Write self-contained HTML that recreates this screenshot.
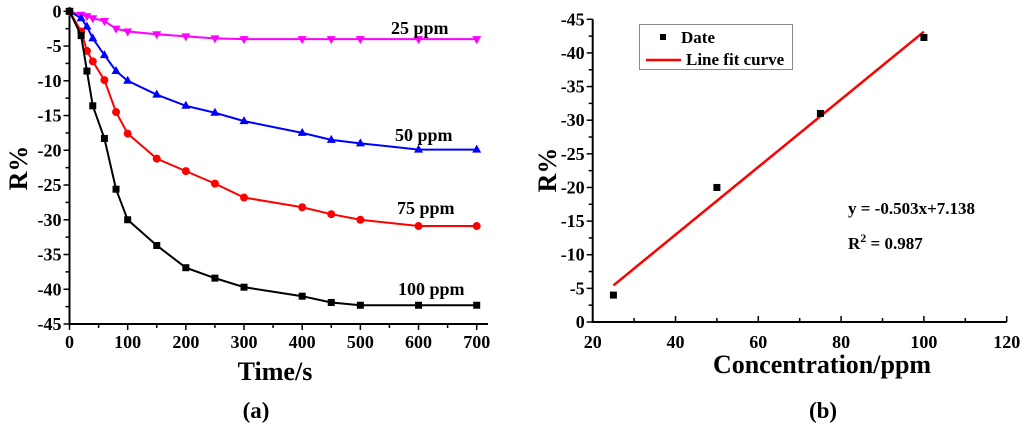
<!DOCTYPE html>
<html><head><meta charset="utf-8"><style>
body{margin:0;background:#fff;overflow:hidden;}
svg text{font-family:"Liberation Serif",serif;font-weight:bold;fill:#000;}
</style></head><body>
<svg id="s" width="1024" height="434"></svg>
<script>
const times=[0,20,30,40,60,80,100,150,200,250,300,400,450,500,600,700];
const s100=[0,-3.5,-8.6,-13.6,-18.3,-25.6,-30,-33.7,-36.9,-38.4,-39.7,-41,-41.9,-42.3,-42.3,-42.3];
const s75=[0,-2.9,-5.7,-7.2,-9.9,-14.5,-17.6,-21.2,-23,-24.8,-26.8,-28.2,-29.2,-30,-30.9,-30.9];
const s50=[0,-1,-2.2,-3.9,-6.3,-8.6,-10,-12,-13.6,-14.6,-15.8,-17.5,-18.5,-19,-19.9,-19.9];
const s25=[0,-0.5,-0.7,-1,-1.4,-2.5,-2.9,-3.3,-3.6,-3.9,-4,-4,-4,-4,-4,-4];
const xTicksA=[0,100,200,300,400,500,600,700];
const yTicksA=[0,-5,-10,-15,-20,-25,-30,-35,-40,-45];
const conc=[25,50,75,100];
const resp=[-4,-20,-31,-42.3];
const fitSlope=-0.503, fitIntercept=7.138;
const xTicksB=[20,40,60,80,100,120];
const yTicksB=[0,-5,-10,-15,-20,-25,-30,-35,-40,-45];

const svg=document.getElementById('s');
const NS='http://www.w3.org/2000/svg';
function mk(tag,attrs,parent){const e=document.createElementNS(NS,tag);for(const k in attrs)e.setAttribute(k,attrs[k]);(parent||svg).appendChild(e);return e;}
function txt(x,y,t,size,anchor,parent){const e=mk('text',{x:x,y:y,'font-size':size,'text-anchor':anchor||'middle'},parent);e.textContent=t;return e;}

// Chart A
const ax=v=>69.5+(v/700)*407.2;
const ay=v=>11.3+(v/-45)*312.7;
const gA=mk('g',{});


const axA=mk('path',{d:`M${ax(0)},${ay(0)-2}V${ay(-45)}H488`,stroke:'#000','stroke-width':2,fill:'none'},gA);


for(let v=0;v<=700;v+=50){const big=v%100===0;mk('line',{x1:ax(v),x2:ax(v),y1:ay(-45),y2:ay(-45)+(big?6:4),stroke:'#000','stroke-width':1.5},gA);}
xTicksA.forEach(v=>{const t=txt(ax(v),348,String(v),18,'middle',gA);});
for(let v=0;v>=-45;v-=2.5){const big=v%5===0;mk('line',{x1:ax(0),x2:ax(0)-(big?6:4),y1:ay(v),y2:ay(v),stroke:'#000','stroke-width':1.5},gA);}
yTicksA.forEach(v=>{const t=txt(ax(0)-8,ay(v)+6,String(v),18,'end',gA);});
const xtA=txt(275,380,'Time/s',26,'middle',gA);
const ytA=txt(0,0,'R%',26,'middle',gA);ytA.setAttribute('transform','translate(27,168) rotate(-90)');
const capA=txt(256,418,'(a)',23,'middle',gA);

function series(vals,color,marker,name){
  const g=mk('g',{},gA);
  
  
  mk('polyline',{points:times.map((t,i)=>ax(t)+','+ay(vals[i])).join(' '),fill:'none',stroke:color,'stroke-width':2},g);
  times.forEach((t,i)=>{const x=ax(t),y=ay(vals[i]);let m;
    if(marker==='sq')m=mk('rect',{x:x-3.5,y:y-3.5,width:7,height:7,fill:color},g);
    else if(marker==='ci')m=mk('circle',{cx:x,cy:y,r:4,fill:color},g);
    else if(marker==='up')m=mk('polygon',{points:`${x},${y-5} ${x-4.5},${y+3} ${x+4.5},${y+3}`,fill:color},g);
    else m=mk('polygon',{points:`${x},${y+5} ${x-4.5},${y-3} ${x+4.5},${y-3}`,fill:color},g);
    });
}
series(s25,'#ff00ff','dn','series-25ppm');
series(s50,'#0000ff','up','series-50ppm');
series(s75,'#ff0000','ci','series-75ppm');
series(s100,'#000','sq','series-100ppm');
[['25 ppm',391,34],['50 ppm',395,141],['75 ppm',397,214],['100 ppm',398,295]].forEach(a=>{const t=txt(a[1],a[2],a[0],18,'start',gA);});

// Chart B
const bx=v=>592.7+((v-20)/100)*414;
const by=v=>322-(v/-45)*302.7;
const gB=mk('g',{});


const axB=mk('path',{d:`M${bx(20)},${by(-45)}V${by(0)}H${bx(120)}`,stroke:'#000','stroke-width':2,fill:'none'},gB);


for(let v=20;v<=120;v+=10){const big=v%20===0;mk('line',{x1:bx(v),x2:bx(v),y1:by(0),y2:by(0)-(big?6:4),stroke:'#000','stroke-width':1.5},gB);}
xTicksB.forEach(v=>{const t=txt(bx(v),348,String(v),18,'middle',gB);});
for(let v=0;v>=-45;v-=2.5){const big=v%5===0;mk('line',{x1:bx(20),x2:bx(20)-(big?6:4),y1:by(v),y2:by(v),stroke:'#000','stroke-width':1.5},gB);}
yTicksB.forEach(v=>{const t=txt(bx(20)-8,by(v)+6,String(v),18,'end',gB);});
const xtB=txt(822,373,'Concentration/ppm',26,'middle',gB);
const ytB=txt(0,0,'R%',26,'middle',gB);ytB.setAttribute('transform','translate(556,170) rotate(-90)');
const capB=txt(823,418,'(b)',23,'middle',gB);
const fl=mk('line',{x1:bx(25),y1:by(fitSlope*25+fitIntercept),x2:bx(100),y2:by(fitSlope*100+fitIntercept),stroke:'#ff0000','stroke-width':2.5},gB);

conc.forEach((c,i)=>{const r=mk('rect',{x:bx(c)-3.5,y:by(resp[i])-3.5,width:7,height:7,fill:'#000'},gB);});
const lg=mk('g',{},gB);


mk('rect',{x:639.5,y:24.5,width:153,height:45,fill:'#fff',stroke:'#888','stroke-width':1},lg);
mk('rect',{x:660,y:34,width:6,height:6,fill:'#000'},lg);
txt(681,43,'Date',17,'start',lg);
mk('line',{x1:646,x2:681,y1:60,y2:60,stroke:'#ff0000','stroke-width':2.5},lg);
txt(686,65,'Line fit curve',17,'start',lg);
const eq=txt(848,214,'y = -0.503x+7.138',17,'start',gB);
const r2=mk('text',{x:848,y:249,'font-size':17,'text-anchor':'start'},gB);

r2.innerHTML='R<tspan dy="-7" font-size="12">2</tspan><tspan dy="7"> = 0.987</tspan>';
</script>
</body></html>
